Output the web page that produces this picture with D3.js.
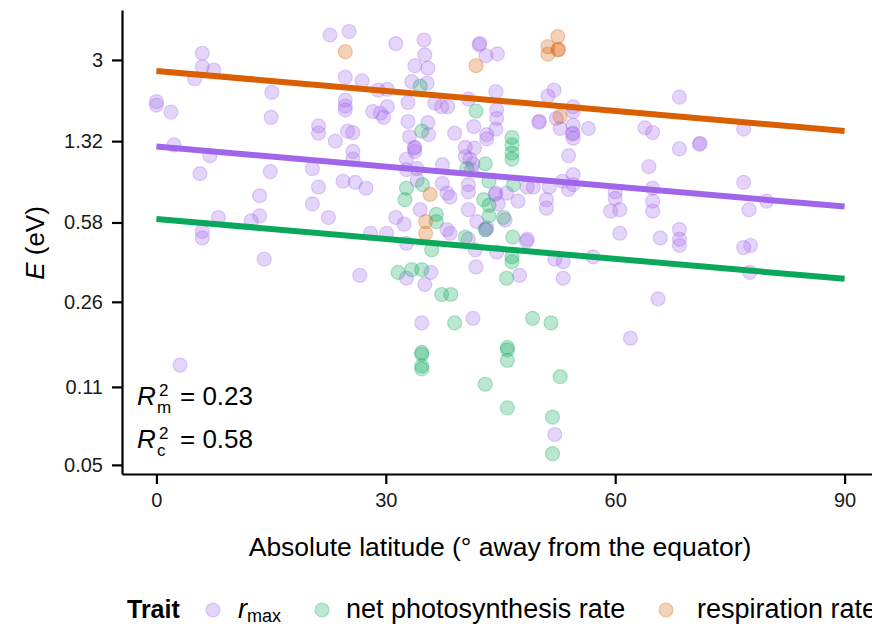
<!DOCTYPE html>
<html>
<head>
<meta charset="utf-8">
<script src="https://cdn.jsdelivr.net/npm/d3@7"></script>
<style>
  body { margin: 0; background: #fff; }
  svg { display: block; font-family: "Liberation Sans", Arial, Helvetica, sans-serif; }
</style>
</head>
<body>
<svg id="chart" width="872" height="624"></svg>
<script>
// trait names (legend order)
const traits = ['rmax', 'photo', 'resp'];
const traitColors = { rmax: '#a066ea', photo: '#0aa85a', resp: '#d95f02' };

// r_max : absolute latitude / activation energy E (eV)
const rmaxLat = [6.0, 6.0, 7.5, 5.0, 15.1, 0.0, 0.0, 1.9, 15.0, 2.3, 7.0, 5.7, 14.9, 13.5, 8.1, 12.4, 13.5, 6.0, 6.0, 14.1, 3.1,
  22.7, 25.2, 31.3, 35.0, 35.1, 33.8, 35.5, 33.4, 35.4, 42.3, 42.2, 43.1, 44.6, 24.7, 26.9, 29.0, 30.2, 24.7, 24.7, 24.7,
  28.3, 29.3, 29.7, 30.2, 32.9, 36.4, 37.3, 38.1, 40.8, 44.4, 44.5, 44.5, 44.4, 52.0, 51.2, 52.3, 50.1, 50.0, 54.5, 54.5,
  54.5, 54.4, 54.5, 52.8, 21.2, 21.2, 23.4, 25.0, 25.7, 32.9, 35.5, 33.1, 35.6, 39.0, 41.5, 43.2, 43.2, 33.8, 33.7, 33.8,
  40.4, 41.6, 40.4, 41.0, 41.4, 53.9, 25.7, 25.7, 20.4, 32.7, 37.4, 32.7, 34.1, 41.2, 21.2, 24.4, 26.0, 27.4, 34.1, 37.4,
  38.0, 38.4, 40.8, 40.8, 44.4, 44.3, 45.8, 48.5, 49.3, 51.4, 53.1, 54.5, 54.5, 53.9, 20.4, 22.5, 31.3, 32.4, 34.5, 40.8,
  44.7, 45.6, 47.3, 51.0, 51.0, 41.9, 43.2, 43.1, 38.0, 38.4, 40.8, 48.5, 48.4, 28.0, 30.1, 32.7,
  54.5, 56.5, 68.4, 63.9, 64.9, 76.8, 68.4, 71.1, 71.0, 64.4, 60.0, 60.0, 59.4, 60.6, 64.9, 64.9, 64.9, 76.8, 77.5, 79.8,
  60.6, 65.9, 68.4, 68.4, 68.4, 76.8, 77.7, 77.6, 57.1, 53.2, 53.2, 65.6, 62.0, 52.1, 26.6, 32.7, 35.9, 35.1, 34.7, 41.4,
  41.8, 41.7, 44.5, 47.5, 52.1];
const rmaxE = [3.21, 2.80, 2.71, 2.48, 2.16, 1.97, 1.90, 1.77, 1.68, 1.27, 1.14, 0.95, 0.97, 0.76, 0.61, 0.59, 0.62, 0.53, 0.496, 0.40, 0.137,
  3.86, 4.00, 3.54, 3.67, 3.16, 2.83, 2.76, 2.41, 2.37, 3.54, 3.50, 3.13, 3.19, 2.52, 2.43, 2.21, 2.23, 2.00, 1.88, 1.81,
  1.78, 1.75, 1.68, 1.87, 1.95, 1.94, 1.87, 1.87, 2.02, 2.18, 1.81, 1.66, 1.49, 2.21, 2.08, 1.66, 1.61, 1.60, 1.87, 1.55,
  1.43, 1.42, 1.36, 1.50, 1.54, 1.43, 1.32, 1.46, 1.44, 1.61, 1.59, 1.38, 1.41, 1.43, 1.53, 1.41, 1.35, 1.24, 1.23, 1.19,
  1.24, 1.23, 1.13, 1.10, 1.05, 1.14, 1.19, 1.10, 1.00, 1.10, 1.04, 0.99, 1.00, 0.99, 0.83, 0.88, 0.87, 0.82, 0.89, 0.86,
  0.78, 0.75, 0.85, 0.79, 0.78, 0.77, 0.78, 0.83, 0.83, 0.83, 0.88, 0.94, 0.85, 0.81, 0.70, 0.61, 0.61, 0.57, 0.66, 0.66,
  0.70, 0.595, 0.72, 0.73, 0.67, 0.585, 0.55, 0.54, 0.54, 0.52, 0.49, 0.49, 0.48, 0.52, 0.52, 0.47,
  1.78, 1.50, 2.06, 1.51, 1.44, 1.49, 1.22, 1.29, 1.28, 1.02, 0.79, 0.74, 0.65, 0.66, 0.82, 0.72, 0.65, 0.87, 0.66, 0.72,
  0.52, 0.496, 0.54, 0.49, 0.46, 0.45, 0.46, 0.35, 0.41, 0.39, 0.33, 0.268, 0.18, 0.068, 0.34, 0.33, 0.35, 0.31, 0.21, 0.22,
  0.37, 0.44, 0.43, 0.34, 0.40];

// net photosynthesis rate
const photoLat = [34.5, 41.8, 34.7, 46.5, 46.5, 46.5, 46.5, 43.0, 40.6, 32.7, 32.5, 34.8, 43.5, 46.7, 36.6, 36.6, 42.8, 43.5,
  43.5, 45.4, 43.0, 40.4, 46.6, 36.0, 31.6, 33.4, 34.7, 37.3, 38.5, 39.0, 46.5, 46.5, 45.8, 49.2, 51.6, 34.7, 34.7, 34.7,
  34.7, 45.9, 45.9, 45.9, 43.0, 52.8, 45.9, 51.8, 51.8];
const photoE = [2.30, 1.79, 1.46, 1.37, 1.27, 1.17, 1.10, 1.05, 1.00, 0.82, 0.73, 0.85, 0.88, 0.85, 0.63, 0.585, 0.73, 0.69,
  0.62, 0.61, 0.54, 0.50, 0.50, 0.44, 0.35, 0.36, 0.36, 0.28, 0.28, 0.21, 0.41, 0.39, 0.33, 0.22, 0.21, 0.156, 0.153, 0.136,
  0.132, 0.164, 0.16, 0.144, 0.113, 0.122, 0.089, 0.081, 0.056];

// respiration rate
const respLat = [24.7, 41.8, 52.5, 51.2, 52.6, 52.5, 51.2, 52.8, 35.8, 35.2, 35.2];
const respE = [3.26, 2.83, 3.80, 3.43, 3.34, 3.32, 3.18, 1.69, 0.77, 0.585, 0.52];

// fitted lines at latitude 0 and 90
const fitLat = [0, 90];
const rmaxFit = [1.249, 0.681];
const photoFit = [0.601, 0.328];
const respFit = [2.684, 1.463];

const yTicks = [0.05, 0.11, 0.26, 0.58, 1.32, 3];
const xTicks = [0, 30, 60, 90];

const svg = d3.select('#chart');
const x = d3.scaleLinear().domain([-4.5, 94.5]).range([122, 879]);
const y = d3.scaleLog().domain([0.0456, 4.97]).range([474, 10]);

const series = {
  rmax: d3.zip(rmaxLat, rmaxE),
  photo: d3.zip(photoLat, photoE),
  resp: d3.zip(respLat, respE)
};
const fits = { rmax: rmaxFit, photo: photoFit, resp: respFit };

// points
traits.forEach(t => {
  svg.append('g').selectAll('circle')
    .data(series[t])
    .join('circle')
    .attr('cx', d => x(d[0]))
    .attr('cy', d => y(d[1]))
    .attr('r', 7)
    .attr('fill', traitColors[t])
    .attr('fill-opacity', 0.28)
    .attr('stroke', traitColors[t])
    .attr('stroke-opacity', 0.3)
    .attr('stroke-width', 1.2);
});

// fitted lines
const line = d3.line().x(d => x(d[0])).y(d => y(d[1]));
['resp', 'rmax', 'photo'].forEach(t => {
  svg.append('path')
    .datum(d3.zip(fitLat, fits[t]))
    .attr('d', line)
    .attr('fill', 'none')
    .attr('stroke', traitColors[t])
    .attr('stroke-width', 6);
});

// axes
const yAxis = svg.append('g')
  .attr('transform', 'translate(122,0)')
  .call(d3.axisLeft(y).tickValues(yTicks).tickFormat(d => String(d)).tickSize(10).tickPadding(9).tickSizeOuter(0));
const xAxis = svg.append('g')
  .attr('transform', 'translate(0,474)')
  .call(d3.axisBottom(x).tickValues(xTicks).tickSize(10).tickPadding(9).tickSizeOuter(0));
[yAxis, xAxis].forEach(a => {
  a.select('.domain').attr('stroke', '#000').attr('stroke-width', 2.2);
  a.selectAll('.tick line').attr('stroke', '#000').attr('stroke-width', 2.2);
  a.selectAll('.tick text').attr('fill', '#1a1a1a')
    .style('font-size', '20px').style('font-family', '"Liberation Sans", Arial, sans-serif');
});

// axis titles
svg.append('text')
  .attr('x', 500).attr('y', 556)
  .attr('text-anchor', 'middle')
  .style('font-size', '26.5px')
  .text('Absolute latitude (° away from the equator)');

const yl = svg.append('text')
  .attr('transform', 'translate(44,243) rotate(-90)')
  .attr('text-anchor', 'middle')
  .style('font-size', '26px');
yl.append('tspan').style('font-style', 'italic').text('E');
yl.append('tspan').text(' (eV)');

// R² annotations (one text each, super- and subscript as tspans)
const r2 = [
  { sub: 'm', val: '= 0.23', base: 405 },
  { sub: 'c', val: '= 0.58', base: 448 }
];
r2.forEach(r => {
  const t = svg.append('text').attr('x', 137).attr('y', r.base).style('font-size', '26px');
  t.append('tspan').style('font-style', 'italic').text('R');
  t.append('tspan').attr('x', 159).attr('dy', -9).style('font-size', '17px').text('2');
  t.append('tspan').attr('x', 157).attr('dy', 17).style('font-size', '17px').text(r.sub);
  t.append('tspan').attr('x', 180).attr('dy', -8).text(r.val);
});

// legend
const legY = 618;
svg.append('text').attr('x', 127).attr('y', legY)
  .style('font-size', '25px').style('font-weight', 'bold').text('Trait');
const legItems = [
  { t: 'rmax', cx: 213, tx: 238 },
  { t: 'photo', cx: 322, tx: 346, label: 'net photosynthesis rate' },
  { t: 'resp', cx: 666, tx: 697, label: 'respiration rate' }
];
legItems.forEach(it => {
  svg.append('circle')
    .attr('cx', it.cx).attr('cy', legY - 8).attr('r', 7)
    .attr('fill', traitColors[it.t]).attr('fill-opacity', 0.28)
    .attr('stroke', traitColors[it.t]).attr('stroke-opacity', 0.3).attr('stroke-width', 1.2);
  const tx = svg.append('text').attr('x', it.tx).attr('y', legY).style('font-size', '27px');
  if (it.t === 'rmax') {
    tx.append('tspan').style('font-style', 'italic').text('r');
    tx.append('tspan').attr('dy', 4).style('font-size', '18px').text('max');
  } else {
    tx.text(it.label);
  }
});
</script>
</body>
</html>
